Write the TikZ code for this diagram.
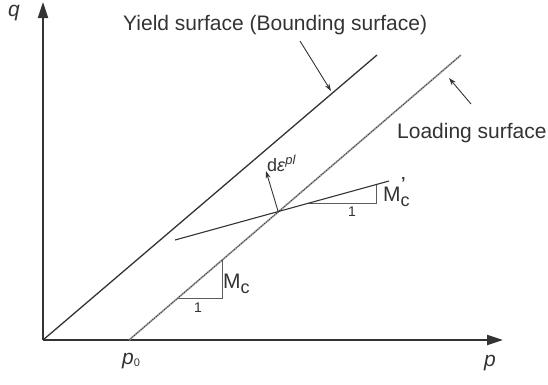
\documentclass[tikz,border=0pt]{standalone}
\usepackage{fontspec}
\setmainfont{Liberation Sans}
\usetikzlibrary{arrows.meta}
\definecolor{ink}{HTML}{333333}
\begin{document}
\begin{tikzpicture}[x=1pt,y=-1pt,
  axis/.style={ink,line width=2.2pt,-{Triangle[length=16pt,width=10pt]}},
  yieldline/.style={ink,line width=1.3pt},
  loadbase/.style={gray!65,line width=1.8pt},
  loadtop/.style={ink,line width=0.7pt,dash pattern=on 1.2pt off 1pt},
  slopeline/.style={ink,line width=1.1pt},
  tri/.style={ink!80,line width=0.8pt},
  pointer/.style={ink,line width=0.9pt,-{Stealth[length=7.5pt,width=5pt]}},
  lbl/.style={ink,inner sep=0pt,anchor=base west,font=\fontsize{21}{25}\selectfont},
  one/.style={ink,inner sep=0pt,font=\fontsize{14}{16}\selectfont}]
\useasboundingbox (0,0) rectangle (548,384);
% coordinates
\coordinate (O) at (43,340);
\coordinate (Ytip) at (43,2);
\coordinate (Xtip) at (503,340);
\coordinate (Yend) at (377,55);
\coordinate (P0) at (129,340);
\coordinate (Lend) at (461,55);
\coordinate (I) at (278,211);
\coordinate (Sa) at (175,240);
\coordinate (Sb) at (389,181);
\coordinate (T1a) at (307,203);
\coordinate (T1b) at (376,203);
\coordinate (T1c) at (376,184);
\coordinate (T2a) at (178,298);
\coordinate (T2b) at (222,298);
\coordinate (T2c) at (222,260);
\coordinate (De) at (266,171);
\coordinate (YPs) at (300,41);
\coordinate (YPe) at (331,91);
\coordinate (LPs) at (471,104);
\coordinate (LPe) at (449,78);
% axes
\draw[axis] (O) -- (Ytip);
\draw[axis] (O) -- (Xtip);
% yield surface
\draw[yieldline] (O) -- (Yend);
% loading surface
\draw[loadbase] (P0) -- (Lend);
\draw[loadtop] (P0) -- (Lend);
% slope triangles
\draw[tri] (T2a) -- (T2b) -- (T2c);
\draw[tri] (T1a) -- (T1b) -- (T1c);
% tangent line at current state
\draw[slopeline] (Sa) -- (Sb);
% plastic strain increment
\draw[pointer] (I) -- (De);
% pointers
\draw[pointer] (YPs) -- (YPe);
\draw[pointer] (LPs) -- (LPe);
% labels
\node[lbl] (ylab) at (123,30) {Yield surface (Bounding surface)};
\node[lbl] (llab) at (397,138) {Loading surface};
\node[lbl] (mc) at (223,288) {M\raisebox{-5pt}{\fontsize{18}{20}\selectfont c}};
\node[lbl] (mcp) at (383,201) {M\raisebox{-5pt}{\fontsize{18}{20}\selectfont c}};
\node[ink,inner sep=0pt,anchor=north west,font=\fontsize{16}{16}\selectfont\bfseries] (prime) at (401,177.5) {’};
\node[one] (one1) at (198,308) {1};
\node[one] (one2) at (352,212) {1};
\node[ink,inner sep=0pt,anchor=base west,font=\fontsize{18}{20}\selectfont] (de) at (267,171)
  {d\textit{ε}\raisebox{7pt}{\fontsize{13}{15}\selectfont\textit{pl}}};
\node[ink,inner sep=0pt,anchor=base west,font=\fontsize{21}{25}\selectfont] (q) at (8,16) {\textit{q}};
\node[ink,inner sep=0pt,anchor=base west,font=\fontsize{21}{25}\selectfont] (p) at (484,366) {\textit{p}};
\node[ink,inner sep=0pt,anchor=base west,font=\fontsize{21}{25}\selectfont] (p0) at (122,364)
  {\textit{p}\raisebox{-2pt}{\fontsize{11}{12}\selectfont 0}};
\end{tikzpicture}
\end{document}
